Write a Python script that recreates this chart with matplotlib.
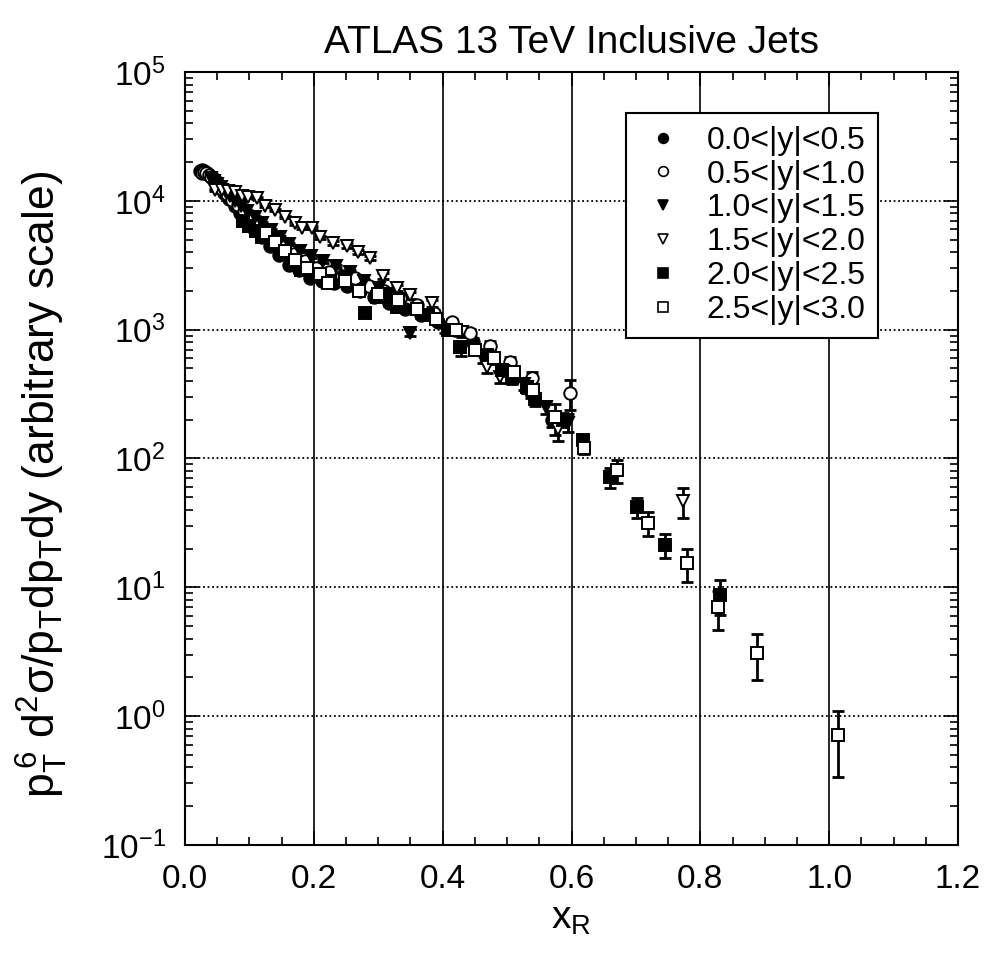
import matplotlib
matplotlib.use("Agg")
import matplotlib.pyplot as plt
from matplotlib.ticker import MultipleLocator, LogLocator, NullFormatter, FormatStrFormatter
import numpy as np

plt.rcParams['font.family'] = ['Liberation Sans', 'DejaVu Sans']
plt.rcParams['mathtext.fontset'] = 'custom'
plt.rcParams['mathtext.rm'] = 'Liberation Sans'
plt.rcParams['mathtext.it'] = 'Liberation Sans:italic'
plt.rcParams['mathtext.bf'] = 'Liberation Sans:bold'

# ---- data: x_R and scaled cross section per rapidity bin, with relative errors (%) ----
labels = ['0.0<|y|<0.5', '0.5<|y|<1.0', '1.0<|y|<1.5',
          '1.5<|y|<2.0', '2.0<|y|<2.5', '2.5<|y|<3.0']

x_y05 = [0.024, 0.027, 0.030, 0.034, 0.038, 0.043, 0.048, 0.054, 0.061, 0.069,
         0.077, 0.086, 0.096, 0.107, 0.119, 0.132, 0.146, 0.161, 0.177, 0.194,
         0.212, 0.231, 0.251, 0.272, 0.294, 0.317, 0.341, 0.366, 0.392, 0.419,
         0.447, 0.476, 0.506, 0.537, 0.569]
v_y05 = [1.70e4, 1.74e4, 1.72e4, 1.66e4, 1.58e4, 1.50e4, 1.40e4, 1.28e4, 1.16e4, 1.04e4,
         9.2e3, 8.1e3, 7.1e3, 6.1e3, 5.2e3, 4.5e3, 3.8e3, 3.2e3, 2.9e3, 2.5e3,
         2.4e3, 2.3e3, 2.2e3, 2.0e3, 1.8e3, 1.6e3, 1.45e3, 1.3e3, 1.15e3, 1.0e3,
         800, 620, 480, 330, 200]
e_y05 = [2, 2, 2, 2, 2, 2, 2, 2, 2, 2, 2, 2, 2, 2, 2, 2, 2, 2, 2, 2,
         3, 3, 3, 3, 4, 4, 4, 5, 5, 6, 7, 8, 9, 10, 12]

x_y10 = [0.026, 0.029, 0.033, 0.037, 0.041, 0.046, 0.052, 0.058, 0.065, 0.073,
         0.082, 0.091, 0.101, 0.113, 0.125, 0.139, 0.153, 0.169, 0.186, 0.204,
         0.223, 0.243, 0.264, 0.286, 0.309, 0.334, 0.360, 0.386, 0.414, 0.443,
         0.473, 0.505, 0.538, 0.598]
v_y10 = [1.65e4, 1.68e4, 1.64e4, 1.58e4, 1.52e4, 1.44e4, 1.34e4, 1.24e4, 1.13e4, 1.02e4,
         9.3e3, 8.4e3, 7.4e3, 6.5e3, 5.7e3, 5.0e3, 4.4e3, 3.9e3, 3.4e3, 3.0e3,
         2.8e3, 2.6e3, 2.5e3, 2.2e3, 2.0e3, 1.75e3, 1.55e3, 1.35e3, 1.15e3, 950,
         750, 560, 420, 320]
e_y10 = [2, 2, 2, 2, 2, 2, 2, 2, 2, 2, 2, 2, 2, 2, 2, 2, 2, 2, 2, 2,
         3, 3, 3, 3, 4, 4, 5, 5, 6, 7, 8, 9, 11, 26]

x_y15 = [0.040, 0.045, 0.050, 0.056, 0.063, 0.070, 0.078, 0.087, 0.097, 0.108,
         0.120, 0.133, 0.147, 0.162, 0.178, 0.196, 0.215, 0.235, 0.256, 0.278,
         0.301, 0.325, 0.349, 0.377, 0.404, 0.428, 0.463, 0.494, 0.527, 0.561,
         0.595]
v_y15 = [1.50e4, 1.42e4, 1.35e4, 1.27e4, 1.18e4, 1.09e4, 1.0e4, 9.2e3, 8.3e3, 7.5e3,
         6.7e3, 5.9e3, 5.2e3, 4.6e3, 4.1e3, 3.7e3, 3.4e3, 3.1e3, 2.8e3, 2.4e3,
         2.1e3, 1.9e3, 950, 1.3e3, 1.0e3, 720, 600, 480, 380, 250,
         190]
e_y15 = [2, 2, 2, 2, 2, 2, 2, 2, 2, 2, 2, 2, 2, 2, 2, 3, 3, 3, 3, 4,
         4, 5, 6, 6, 6, 14, 8, 9, 10, 12, 16]

x_y20 = [0.047, 0.057, 0.067, 0.078, 0.088, 0.098, 0.112, 0.124, 0.140, 0.155,
         0.171, 0.182, 0.197, 0.210, 0.230, 0.252, 0.269, 0.287, 0.307, 0.329,
         0.349, 0.384, 0.430, 0.469, 0.489, 0.531, 0.579, 0.773]
v_y20 = [1.21e4, 1.22e4, 1.20e4, 1.17e4, 1.10e4, 1.07e4, 1.05e4, 9.2e3, 8.5e3, 7.5e3,
         6.7e3, 6.2e3, 6.2e3, 5.2e3, 4.7e3, 4.5e3, 4.0e3, 3.6e3, 2.6e3, 2.1e3,
         1.85e3, 1.6e3, 960, 515, 430, 360, 170, 47]
e_y20 = [2, 2, 2, 2, 2, 2, 2, 2, 2, 2, 3, 3, 3, 3, 3, 4, 4, 4, 5, 5,
         6, 6, 8, 10, 10, 11, 19, 26]

x_y25 = [0.090, 0.100, 0.110, 0.120, 0.135, 0.150, 0.165, 0.180, 0.200, 0.222,
         0.248, 0.280, 0.298, 0.314, 0.329, 0.377, 0.408, 0.427, 0.469, 0.492,
         0.508, 0.531, 0.543, 0.587, 0.618, 0.660, 0.702, 0.745, 0.831]
v_y25 = [7.0e3, 6.4e3, 5.8e3, 5.2e3, 4.6e3, 4.0e3, 3.4e3, 2.9e3, 2.6e3, 2.4e3,
         2.5e3, 1.35e3, 1.8e3, 1.9e3, 1.5e3, 1.3e3, 1.0e3, 740, 640, 490,
         420, 360, 290, 200, 139, 72, 42, 21.3, 8.7]
e_y25 = [2, 2, 2, 2, 2, 3, 3, 3, 3, 3, 4, 6, 5, 5, 6, 7, 7, 9, 9, 10,
         10, 11, 12, 12, 9, 18, 18, 21, 30]

x_y30 = [0.125, 0.140, 0.155, 0.170, 0.190, 0.210, 0.222, 0.248, 0.270, 0.300,
         0.330, 0.360, 0.390, 0.420, 0.450, 0.480, 0.510, 0.540, 0.575, 0.620,
         0.671, 0.719, 0.780, 0.828, 0.888, 1.014]
v_y30 = [5.6e3, 4.8e3, 4.1e3, 3.5e3, 3.0e3, 2.7e3, 2.3e3, 2.4e3, 2.0e3, 1.9e3,
         1.7e3, 1.45e3, 1.2e3, 1.0e3, 700, 600, 470, 340, 209, 120,
         81, 31.5, 15.4, 7.0, 3.1, 0.72]
e_y30 = [3, 3, 3, 3, 3, 4, 4, 4, 5, 5, 5, 6, 7, 7, 8, 9, 10, 11, 27, 10,
         20, 21, 29, 33, 39, 53]

series = [
    (x_y05, v_y05, e_y05, 'o', 'black'),
    (x_y10, v_y10, e_y10, 'o', 'white'),
    (x_y15, v_y15, e_y15, 'v', 'black'),
    (x_y20, v_y20, e_y20, 'v', 'white'),
    (x_y25, v_y25, e_y25, 's', 'black'),
    (x_y30, v_y30, e_y30, 's', 'white'),
]

fig = plt.figure(figsize=(9.84, 9.58), dpi=100)
ax = fig.add_axes([0.188, 0.118, 0.7856, 0.8068])

handles = []
for (xs, ys, es, mk, fc), lab in zip(series, labels):
    xs = np.asarray(xs)
    ys = np.asarray(ys)
    err = ys * np.asarray(es) / 100.0
    ax.errorbar(xs, ys, yerr=err, fmt='none', ecolor='black',
                elinewidth=2.0, capsize=4.5, capthick=2.0, zorder=3)
    ax.plot(xs, ys, linestyle='none', marker=mk, markersize=9,
            markerfacecolor=fc, markeredgecolor='black', markeredgewidth=1.4,
            zorder=4)
    h, = ax.plot([], [], linestyle='none', marker=mk, markersize=7,
                 markerfacecolor=fc, markeredgecolor='black',
                 markeredgewidth=1.2, label=lab)
    handles.append(h)

ax.set_yscale('log')
ax.set_xlim(0.0, 1.2)
ax.set_ylim(0.1, 1e5)

ax.xaxis.set_major_locator(MultipleLocator(0.2))
ax.xaxis.set_minor_locator(MultipleLocator(0.05))
ax.xaxis.set_major_formatter(FormatStrFormatter('%.1f'))
ax.yaxis.set_major_locator(LogLocator(base=10, numticks=10))
ax.yaxis.set_minor_locator(LogLocator(base=10, subs=np.arange(2, 10), numticks=20))
ax.yaxis.set_minor_formatter(NullFormatter())

ax.grid(axis='x', which='major', color='black', linestyle='-', linewidth=1.2)
ax.grid(axis='y', which='major', color='black', linestyle=(0, (1, 1.5)), linewidth=1.3)
ax.set_axisbelow(True)

ax.tick_params(which='both', direction='in', top=True, right=True,
               width=1.2, colors='black')
ax.tick_params(which='major', length=10)
ax.tick_params(which='minor', length=6)
ax.tick_params(axis='x', which='major', labelsize=24, pad=14)
ax.tick_params(axis='y', which='major', labelsize=24, pad=14)
for sp in ax.spines.values():
    sp.set_linewidth(1.5)

ax.set_title('ATLAS 13 TeV Inclusive Jets', fontsize=28, pad=14)
ax.set_xlabel(r'$\mathregular{x_R}$', fontsize=28, labelpad=4)
ax.set_ylabel(r'$\mathregular{p_T^{\,6}\ d^2\sigma/p_T dp_T dy}$ (arbitrary scale)',
              fontsize=32)
ax.yaxis.set_label_coords(-0.149, 0.467)

leg = ax.legend(handles=handles, loc='upper left',
                bbox_to_anchor=(0.571, 0.947), fontsize=23, frameon=True,
                fancybox=False, edgecolor='black', framealpha=1.0,
                borderpad=0.4, labelspacing=0.12, handletextpad=0.6,
                handlelength=1.5, borderaxespad=0.0)
leg.get_frame().set_linewidth(1.5)

fig.savefig('out.png', dpi=100)
